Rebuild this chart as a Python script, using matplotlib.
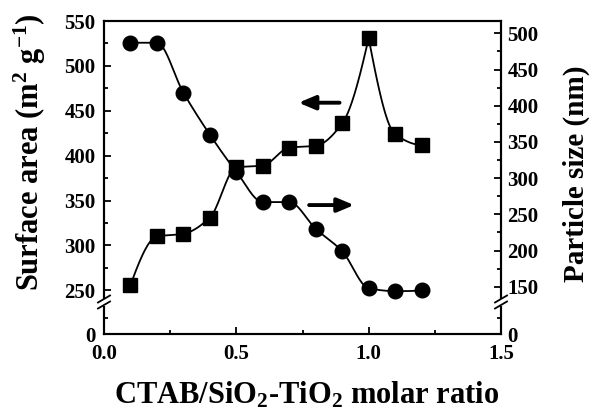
import numpy as np
import matplotlib
matplotlib.use("Agg")
import matplotlib.pyplot as plt
from matplotlib.ticker import FixedLocator, NullFormatter
from matplotlib.lines import Line2D
from matplotlib.patches import Rectangle

plt.rcParams["font.family"] = ["Liberation Serif", "DejaVu Serif"]
plt.rcParams["font.weight"] = "bold"
plt.rcParams["mathtext.fontset"] = "custom"
plt.rcParams["mathtext.rm"] = "Liberation Serif:bold"
plt.rcParams["mathtext.it"] = "Liberation Serif:bold"
plt.rcParams["mathtext.bf"] = "Liberation Serif:bold"

# CTAB/SiO2-TiO2 molar ratio
ratio = [0.1, 0.2, 0.3, 0.4, 0.5, 0.6, 0.7, 0.8, 0.9, 1.0, 1.1, 1.2]
# BET surface area (m2/g)
surface_area = [256, 310, 313, 331, 387, 389, 409, 411, 436, 531, 424, 412]
# particle size (nm)
particle_size = [487, 487, 418, 360, 309, 267, 267, 230, 199, 148, 144, 145]

left_major = [0, 250, 300, 350, 400, 450, 500, 550]
left_minor = [25, 275, 325, 375, 425, 475, 525]
right_major = [0, 150, 200, 250, 300, 350, 400, 450, 500]
right_minor = [25, 175, 225, 275, 325, 375, 425, 475]
x_major = [0.0, 0.5, 1.0, 1.5]
x_minor = [0.25, 0.75, 1.25]


def pchip(x, y, xs):
    x = np.asarray(x, float)
    y = np.asarray(y, float)
    h = np.diff(x)
    delta = np.diff(y) / h
    n = len(x)
    d = np.zeros(n)
    for k in range(1, n - 1):
        if delta[k - 1] * delta[k] > 0:
            w1 = 2 * h[k] + h[k - 1]
            w2 = h[k] + 2 * h[k - 1]
            d[k] = (w1 + w2) / (w1 / delta[k - 1] + w2 / delta[k])

    def end(h0, h1, d0, d1):
        s = ((2 * h0 + h1) * d0 - h0 * d1) / (h0 + h1)
        if np.sign(s) != np.sign(d0):
            return 0.0
        if np.sign(d0) != np.sign(d1) and abs(s) > 3 * abs(d0):
            return 3 * d0
        return s

    if n > 2:
        d[0] = end(h[0], h[1], delta[0], delta[1])
        d[-1] = end(h[-1], h[-2], delta[-1], delta[-2])
    else:
        d[:] = delta[0]
    idx = np.clip(np.searchsorted(x, xs) - 1, 0, n - 2)
    t = (xs - x[idx]) / h[idx]
    h00 = 2 * t**3 - 3 * t**2 + 1
    h10 = t**3 - 2 * t**2 + t
    h01 = -2 * t**3 + 3 * t**2
    h11 = t**3 - t**2
    return (h00 * y[idx] + h10 * h[idx] * d[idx]
            + h01 * y[idx + 1] + h11 * h[idx] * d[idx + 1])


def broken_scale(cut, brk, span):
    # data 0..cut is squeezed into a short band just below the break value
    lo = brk - span

    def fwd(v):
        v = np.asarray(v, float)
        return np.where(v <= cut, lo + v * span / cut, np.maximum(v, brk))

    def inv(d):
        d = np.asarray(d, float)
        return np.where(d <= brk, (d - lo) * cut / span, d)

    return fwd, inv


fig = plt.figure(figsize=(5.91, 4.15), dpi=100)
ax = fig.add_axes([104 / 591, 1 - 334 / 415, 397 / 591, 313 / 415])
ax2 = ax.twinx()

ax.set_yscale("function", functions=broken_scale(50, 237, 35.6))
ax2.set_yscale("function", functions=broken_scale(50, 129, 44.2))

ax.set_xlim(0, 1.5)
ax.set_ylim(0, 550)
ax2.set_ylim(0, 517)

x = np.array(ratio)
sa = np.array(surface_area)
ps = np.array(particle_size)

# surface area: smooth curve with a cusp at the maximum
peak = int(np.argmax(sa))
xa = np.linspace(x[0], x[peak], 300)
xb = np.linspace(x[peak], x[-1], 120)
ax.plot(xa, pchip(x[:peak + 1], sa[:peak + 1], xa), color="black", lw=1.3)
ax.plot(xb, pchip(x[peak:], sa[peak:], xb), color="black", lw=1.3)
ax.plot(x, sa, "s", color="black", ms=9.5, zorder=5)

xs = np.linspace(x[0], x[-1], 400)
ax2.plot(xs, pchip(x, ps, xs), color="black", lw=1.3)
ax2.plot(x, ps, "o", color="black", ms=10.5, zorder=5)

# direction arrows
astyle = dict(arrowstyle="-|>,head_length=1.0,head_width=0.42",
              color="black", lw=2.8, mutation_scale=10,
              shrinkA=0, shrinkB=0)
ax.annotate("", xy=(0.735, 459), xytext=(0.89, 459), arrowprops=astyle)
ax.annotate("", xy=(0.945, 345), xytext=(0.775, 345), arrowprops=astyle)

# ticks
tick_font = dict(fontsize=15, fontweight="bold")
ax.xaxis.set_major_locator(FixedLocator(x_major))
ax.xaxis.set_minor_locator(FixedLocator(x_minor))
ax.set_xticklabels(["0.0", "0.5", "1.0", "1.5"], **tick_font)
ax.yaxis.set_major_locator(FixedLocator(left_major))
ax.yaxis.set_minor_locator(FixedLocator(left_minor))
ax.set_yticklabels([str(v) for v in left_major], **tick_font)
ax2.yaxis.set_major_locator(FixedLocator(right_major))
ax2.yaxis.set_minor_locator(FixedLocator(right_minor))
ax2.set_yticklabels([str(v) for v in right_major], **tick_font)
ax2.yaxis.set_minor_formatter(NullFormatter())

ax.tick_params(axis="both", which="both", direction="in", top=False, right=False)
ax.tick_params(axis="both", which="major", length=5, width=1.3)
ax.tick_params(axis="both", which="minor", length=3, width=1.3)
ax.tick_params(axis="y", pad=6)
ax.tick_params(axis="x", pad=7)
ax2.tick_params(axis="y", which="both", direction="in", width=1.3, pad=4.5)
ax2.tick_params(axis="y", which="major", length=5)
ax2.tick_params(axis="y", which="minor", length=3)

for a in (ax, ax2):
    for s in a.spines.values():
        s.set_linewidth(1.5)

label_font = dict(fontsize=22, fontweight="bold")
ax.set_xlabel(r"CTAB/SiO$_2$-TiO$_2$ molar ratio", va="center", **label_font)
ax.xaxis.set_label_coords(0.511, -0.195)
ax.set_ylabel(r"Surface area (m$^{2}$ g$^{-1}$)", va="center", **label_font)
ax.yaxis.set_label_coords(-0.186, 0.581)
ax2.set_ylabel("Particle size (nm)", va="center", fontsize=21,
               fontweight="bold")
ax2.yaxis.set_label_coords(1.19, 0.511)

# axis break marks on both vertical spines
ybrk = 32 / 313
w, h = 397.0, 313.0
for xb0 in (0.0, 1.0):
    ax2.add_patch(Rectangle((xb0 - 3 / w, ybrk - 3.5 / h), 6 / w, 7 / h,
                            transform=ax2.transAxes, facecolor="white",
                            edgecolor="none", clip_on=False, zorder=10))
    for off in (-3.0, 3.0):
        ax2.add_line(Line2D([xb0 - 6 / w, xb0 + 6 / w],
                            [ybrk + (off - 3.5) / h, ybrk + (off + 3.5) / h],
                            transform=ax2.transAxes, color="black", lw=1.3,
                            clip_on=False, zorder=11))

fig.savefig("out.png", dpi=100)
